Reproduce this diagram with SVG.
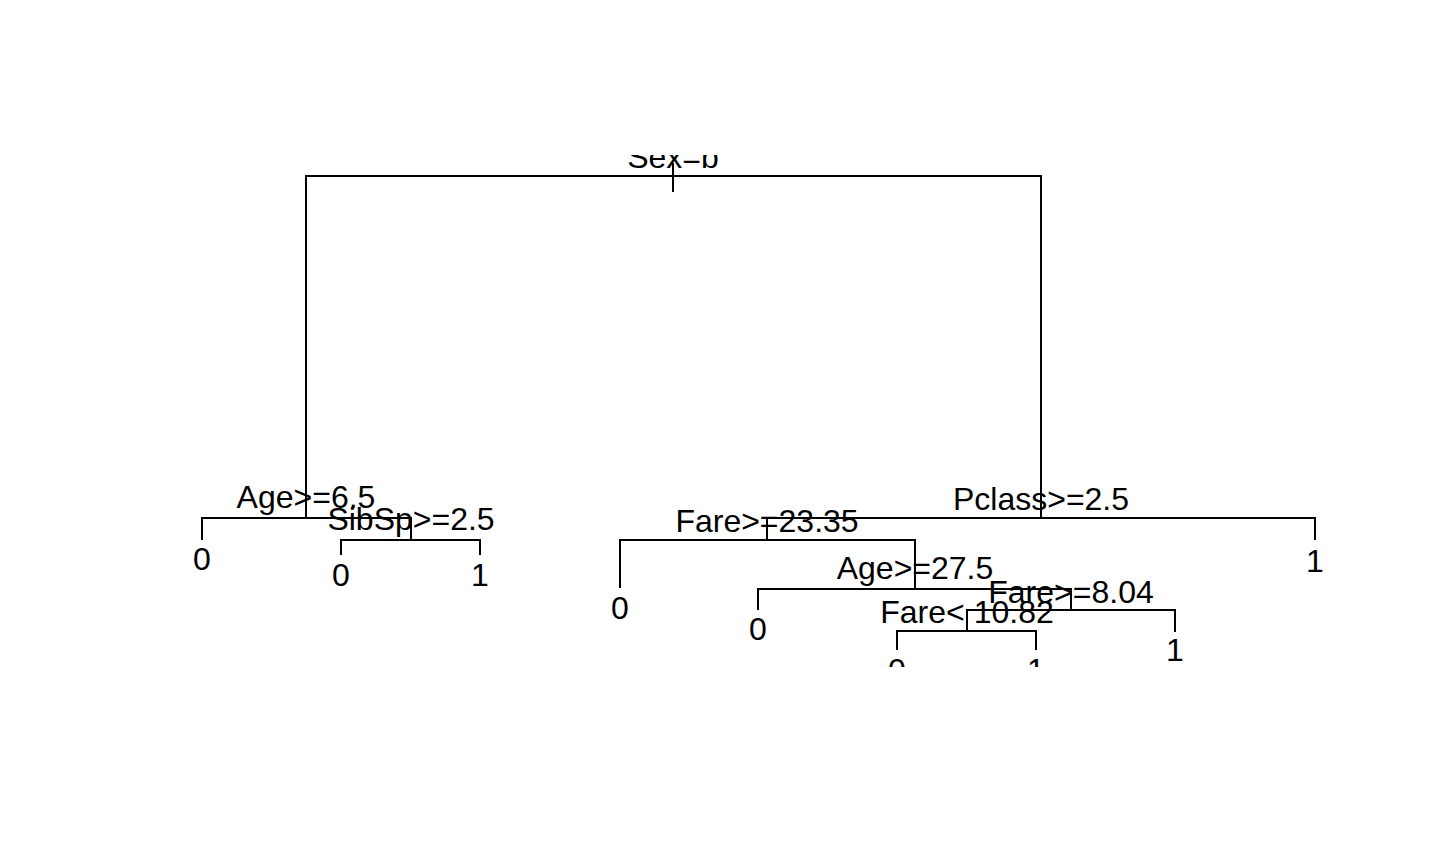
<svg xmlns="http://www.w3.org/2000/svg" width="1440" height="864" viewBox="0 0 1440 864">
<style>
.e{fill:none;stroke:#000;stroke-width:2}
text{font-family:"Liberation Sans",Arial,sans-serif;font-size:32px;fill:#000;text-anchor:middle}
</style>
<defs><clipPath id="plot"><rect x="0" y="155" width="1440" height="512"/></clipPath></defs>
<rect width="1440" height="864" fill="#fff"/>
<g clip-path="url(#plot)">
<g id="connectors">
<path class="e" d="M673 163V192"/>
<path class="e" d="M306 518V176H1041V518"/>
<path class="e" d="M202 540V518H411V540"/>
<path class="e" d="M341 555V540H480V555"/>
<path class="e" d="M767 540V518H1315V540"/>
<path class="e" d="M620 588V540H915V589"/>
<path class="e" d="M758 610V589H1071V610"/>
<path class="e" d="M967 631V610H1175V632"/>
<path class="e" d="M897 650V631H1036V650"/>
</g>
<g id="n-root"><text x="673" y="168">Sex=b</text></g>
<g id="n-age65"><text x="306" y="508">Age&gt;=6.5</text></g>
<g id="n-leaf1"><text x="202" y="570">0</text></g>
<g id="n-sibsp"><text x="411" y="530">SibSp&gt;=2.5</text></g>
<g id="n-leaf2"><text x="341" y="586">0</text></g>
<g id="n-leaf3"><text x="480" y="586">1</text></g>
<g id="n-pclass"><text x="1041" y="510">Pclass&gt;=2.5</text></g>
<g id="n-leaf4"><text x="1315" y="572">1</text></g>
<g id="n-fare2335"><text x="767" y="532">Fare&gt;=23.35</text></g>
<g id="n-leaf5"><text x="620" y="619">0</text></g>
<g id="n-age275"><text x="915" y="579">Age&gt;=27.5</text></g>
<g id="n-leaf6"><text x="758" y="640">0</text></g>
<g id="n-fare804"><text x="1071" y="603">Fare&gt;=8.04</text></g>
<g id="n-leaf7"><text x="1175" y="661">1</text></g>
<g id="n-fare1082"><text x="967" y="623">Fare&lt; 10.82</text></g>
<g id="n-leaf8"><text x="897" y="681">0</text></g>
<g id="n-leaf9"><text x="1036" y="681">1</text></g>
</g>
</svg>
